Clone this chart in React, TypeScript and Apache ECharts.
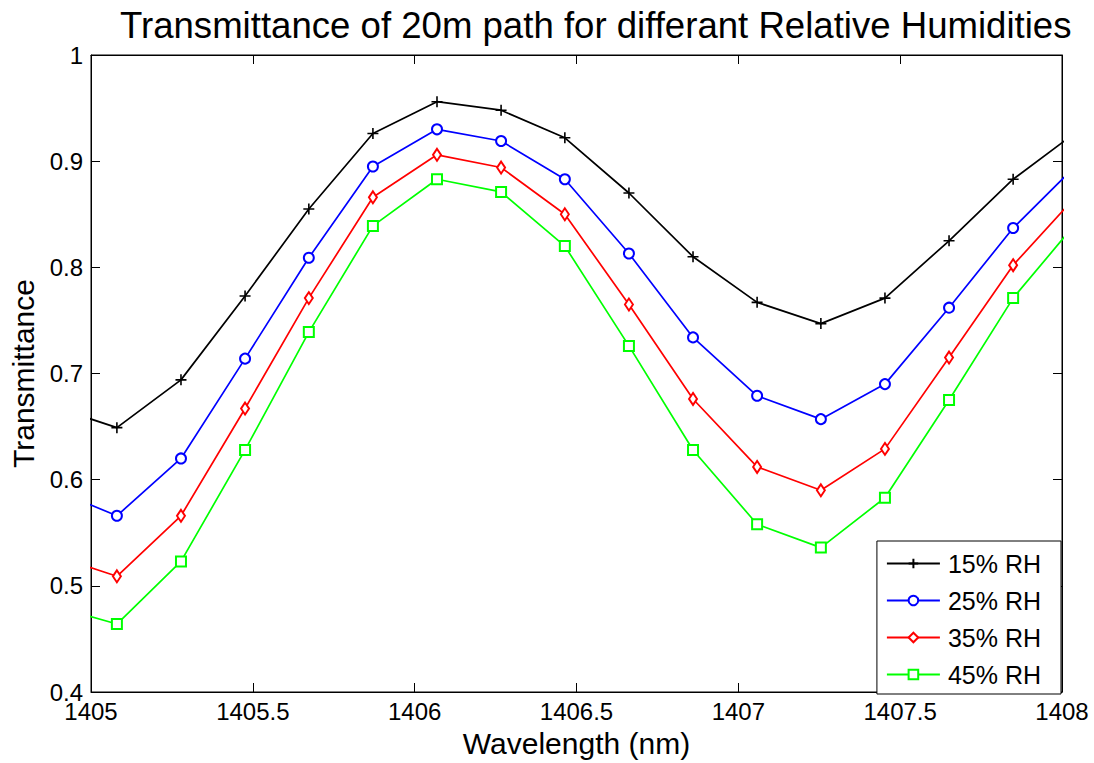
import React, { useEffect, useRef } from "react";
import * as echarts from "echarts";

const titleText = "Transmittance of 20m path for differant Relative Humidities";
const xName = "Wavelength (nm)";
const yName = "Transmittance";
const seriesNames = ["15% RH", "25% RH", "35% RH", "45% RH"];
const colors = ["#000000", "#0000ff", "#ff0000", "#00ff00"];

// wavelengths (nm); first and last samples lie just outside the visible axis range
const wavelengths = [
  1404.882, 1405.08, 1405.278, 1405.476, 1405.673, 1405.871, 1406.069, 1406.267,
  1406.464, 1406.662, 1406.86, 1407.058, 1407.255, 1407.453, 1407.651, 1407.849, 1408.047,
];

const rh15 = [0.669, 0.649, 0.694, 0.773, 0.855, 0.926, 0.956, 0.948, 0.922, 0.870, 0.810, 0.767, 0.747, 0.771, 0.825, 0.883, 0.928];
const rh25 = [0.591, 0.566, 0.620, 0.714, 0.809, 0.895, 0.930, 0.919, 0.883, 0.813, 0.734, 0.679, 0.657, 0.690, 0.762, 0.837, 0.897];
const rh35 = [0.529, 0.509, 0.566, 0.667, 0.771, 0.866, 0.906, 0.894, 0.850, 0.765, 0.676, 0.612, 0.590, 0.629, 0.715, 0.802, 0.868];
const rh45 = [0.481, 0.464, 0.523, 0.628, 0.739, 0.839, 0.883, 0.871, 0.820, 0.726, 0.628, 0.558, 0.536, 0.583, 0.675, 0.771, 0.843];

const allValues = [rh15, rh25, rh35, rh45];

const symbols = [
  "path://M5,0L5,10M0,5L10,5",
  "emptyCircle",
  "emptyDiamond",
  "emptyRect",
];
const symbolSizes: any[] = [11, 10, [8, 12], 10];

const FONT = "'Liberation Sans', Arial, Helvetica, sans-serif";

export default function App() {
  const ref = useRef<HTMLDivElement>(null);
  useEffect(() => {
    if (!ref.current) return;
    const chart = echarts.init(ref.current, null, { renderer: "svg" });
    const series = allValues.map((vals, i) => ({
      name: seriesNames[i],
      type: "line",
      xAxisIndex: 0,
      yAxisIndex: 0,
      clip: true,
      data: wavelengths.map((w, j) => [w, vals[j]]),
      symbol: symbols[i],
      symbolSize: symbolSizes[i],
      showAllSymbol: true,
      lineStyle: { color: colors[i], width: 1.7 },
      itemStyle: { color: colors[i], borderColor: colors[i], borderWidth: 1.6 },
      emphasis: { disabled: true },
    }));
    const tickStyle = { show: true, inside: true, length: 9, lineStyle: { color: "#000", width: 1 } };
    const plain = (v: number) => String(Math.round(v * 1000) / 1000);
    chart.setOption({
      animation: false,
      backgroundColor: "#ffffff",
      textStyle: { fontFamily: FONT },
      title: {
        text: titleText,
        left: 115,
        top: 2,
        textStyle: { fontSize: 36.6, fontWeight: "normal", color: "#000", fontFamily: FONT },
      },
      grid: { left: 91, right: 32, top: 55, bottom: 69, show: true, borderColor: "#000", borderWidth: 1, backgroundColor: "#fff" },
      legend: {
        data: seriesNames,
        orient: "vertical",
        right: 33,
        bottom: 69,
        backgroundColor: "#ffffff",
        borderColor: "#000",
        borderWidth: 1,
        borderRadius: 0,
        padding: [10, 20, 7, 9],
        itemGap: 12,
        itemWidth: 53,
        itemHeight: 12,
        textStyle: { fontSize: 25, color: "#000", fontFamily: FONT, padding: [0, 0, 0, 3] },
      },
      xAxis: [
        {
          type: "value",
          min: 1405,
          max: 1408,
          interval: 0.5,
          position: "bottom",
          name: xName,
          nameLocation: "middle",
          nameGap: 36,
          nameTextStyle: { fontSize: 30, color: "#000", fontFamily: FONT },
          axisLine: { show: true, lineStyle: { color: "#000", width: 1 } },
          axisTick: tickStyle,
          axisLabel: { fontSize: 24, color: "#000", margin: 7, fontFamily: FONT, formatter: plain },
          splitLine: { show: false },
        },
        {
          type: "value",
          min: 1405,
          max: 1408,
          interval: 0.5,
          position: "top",
          axisLine: { show: true, lineStyle: { color: "#000", width: 1 } },
          axisTick: tickStyle,
          axisLabel: { show: false },
          splitLine: { show: false },
        },
      ],
      yAxis: [
        {
          type: "value",
          min: 0.4,
          max: 1,
          interval: 0.1,
          position: "left",
          name: yName,
          nameLocation: "middle",
          nameGap: 52,
          nameTextStyle: { fontSize: 30, color: "#000", fontFamily: FONT },
          axisLine: { show: true, lineStyle: { color: "#000", width: 1 } },
          axisTick: tickStyle,
          axisLabel: { fontSize: 24, color: "#000", margin: 8, fontFamily: FONT, formatter: plain },
          splitLine: { show: false },
        },
        {
          type: "value",
          min: 0.4,
          max: 1,
          interval: 0.1,
          position: "right",
          axisLine: { show: true, lineStyle: { color: "#000", width: 1 } },
          axisTick: tickStyle,
          axisLabel: { show: false },
          splitLine: { show: false },
        },
      ],
      series,
    });
    return () => chart.dispose();
  }, []);
  return (
    <div
      ref={ref}
      style={{ position: "absolute", left: 0, top: 0, width: 1094, height: 763, background: "#fff" }}
    />
  );
}
